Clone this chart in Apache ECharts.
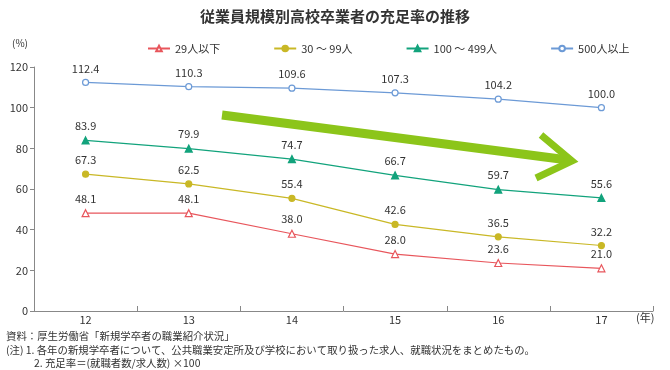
<!DOCTYPE html>
<html><head><meta charset="utf-8">
<script src="https://cdn.jsdelivr.net/npm/echarts@6/dist/echarts.min.js"></script>
<style>html,body{margin:0;padding:0;background:#fff}#c{width:670px;height:370px}</style>
</head><body><div id="c"></div>
<script>
const categories = ['12','13','14','15','16','17'];
const s29 = [48.1, 48.1, 38.0, 28.0, 23.6, 21.0];
const s30 = [67.3, 62.5, 55.4, 42.6, 36.5, 32.2];
const s100 = [83.9, 79.9, 74.7, 66.7, 59.7, 55.6];
const s500 = [112.4, 110.3, 109.6, 107.3, 104.2, 100.0];
const yTicks = [0,20,40,60,80,100,120];

const font = "'Noto Sans CJK JP', 'Noto Sans', sans-serif";
const chart = echarts.init(document.getElementById('c'));
function ser(name, data, color, symbol, fill) {
  return {
    name, type: 'line', data, symbol, symbolSize: symbol==='circle'?6:7,
    lineStyle: {color, width: 1.2},
    itemStyle: {color: fill ? color : '#fff', borderColor: color, borderWidth: 1.2},
    label: {show: true, position: 'top', distance: 5, color: '#333', fontSize: 11, fontFamily: font,
      formatter: p => p.value.toFixed(1)},
    emphasis: {disabled: true}, animation: false
  };
}
// category boundary ticks (pointing up from the x axis)
const tickSeries = {
  type: 'custom', silent: true, z: 1,
  data: categories.map((c, i) => [i, 0]),
  renderItem: (params, api) => {
    const p = api.coord([api.value(0), 0]);
    const bw = api.size([1, 0])[0];
    const xs = [p[0] + bw / 2];
    if (api.value(0) === 0) xs.push(p[0] - bw / 2);
    return {type: 'group', children: xs.map(x => ({
      type: 'line', shape: {x1: Math.round(x) + 0.5, y1: p[1], x2: Math.round(x) + 0.5, y2: p[1] - 5},
      style: {stroke: '#888', lineWidth: 1}
    }))};
  }
};
chart.setOption({
  animation: false,
  textStyle: {fontFamily: font},
  title: {text: '従業員規模別高校卒業者の充足率の推移', left: 'center', top: 4,
    textStyle: {fontSize: 15, fontWeight: 'bold', color: '#333', fontFamily: font}},
  legend: {
    top: 38, left: 142, itemGap: 53, itemWidth: 22, itemHeight: 7,
    textStyle: {fontSize: 11, color: '#333', fontFamily: font},
    data: ['29人以下','30 ～ 99人','100 ～ 499人','500人以上']
  },
  grid: {left: 34, right: 17, top: 67, bottom: 59},
  xAxis: {
    type: 'category', data: categories, boundaryGap: true,
    axisLine: {show: true, lineStyle: {color: '#888', width: 1}},
    axisTick: {show: false},
    axisLabel: {color: '#333', fontSize: 11, margin: 3}
  },
  yAxis: {
    type: 'value', min: 0, max: 120, interval: 20,
    axisLine: {show: true, lineStyle: {color: '#888'}},
    axisTick: {show: true, length: 4, lineStyle: {color: '#888'}},
    splitLine: {show: false},
    axisLabel: {color: '#333', fontSize: 11, margin: 6,
      formatter: v => yTicks.includes(v) ? String(v) : ''}
  },
  graphic: [
    {type: 'text', left: 12, top: 38, style: {text: '(%)', fontSize: 10, fill: '#333', fontFamily: font}},
    {type: 'text', left: 636, top: 312, style: {text: '(年)', fontSize: 11, fill: '#333', fontFamily: font}},
    {type: 'text', left: 6, top: 331, style: {text: '資料：厚生労働省「新規学卒者の職業紹介状況」', fontSize: 10.4, fill: '#333', fontFamily: font}},
    {type: 'text', left: 6, top: 345, style: {text: '(注) 1. 各年の新規学卒者について、公共職業安定所及び学校において取り扱った求人、就職状況をまとめたもの。', fontSize: 10.4, fill: '#333', fontFamily: font}},
    {type: 'text', left: 34, top: 358, style: {text: '2. 充足率＝(就職者数/求人数) ×100', fontSize: 10.4, fill: '#333', fontFamily: font}},
    {type: 'polyline', shape: {points: [[222,115],[568,160]]}, style: {stroke: '#8cc51a', lineWidth: 9, fill: null}},
    {type: 'polyline', shape: {points: [[541,135],[572,161],[536,178]]}, style: {stroke: '#8cc51a', lineWidth: 7, fill: null, lineJoin: 'miter'}}
  ],
  series: [
    ser('29人以下', s29, '#e8565c', 'triangle', false),
    ser('30 ～ 99人', s30, '#c9b826', 'circle', true),
    ser('100 ～ 499人', s100, '#12a37c', 'triangle', true),
    ser('500人以上', s500, '#6c9ad6', 'circle', false),
    tickSeries
  ]
});
</script></body></html>
